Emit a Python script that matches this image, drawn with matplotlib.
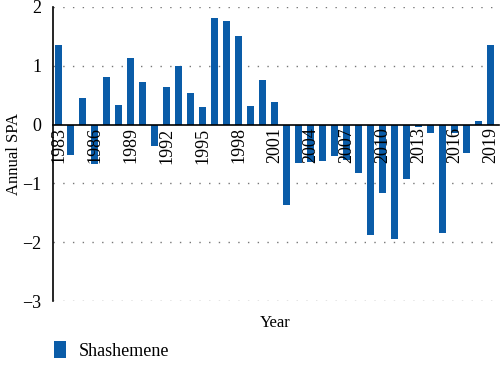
import matplotlib.pyplot as plt
from matplotlib.patches import Patch

years = list(range(1983, 2020))
spa = [1.36, -0.51, 0.46, -0.67, 0.81, 0.34, 1.14, 0.72, -0.37, 0.64,
       0.99, 0.53, 0.30, 1.81, 1.76, 1.50, 0.32, 0.76, 0.38, -1.37,
       -0.65, -0.63, -0.61, -0.54, -0.60, -0.83, -1.87, -1.17, -1.95, -0.93,
       -0.04, -0.15, -1.85, -0.15, -0.49, 0.06, 1.36]
tick_years = list(range(1983, 2020, 3))
yticks = [2, 1, 0, -1, -2, -3]

plt.rcParams['font.family'] = ['Liberation Serif', 'DejaVu Serif']
plt.rcParams['font.size'] = 12

fig = plt.figure(figsize=(5, 3.65), dpi=100)
ax = fig.add_axes([0.105, 0.175, 0.893, 0.806])

color = '#0a5ca8'
ax.bar(years, spa, width=0.52, color=color, zorder=2)

# x axis sits on the zero line (this resets ticks, so do it first)
ax.spines['top'].set_visible(False)
ax.spines['right'].set_visible(False)
ax.spines['bottom'].set_position(('data', 0))
ax.spines['left'].set_linewidth(1.2)
ax.spines['bottom'].set_linewidth(1.2)
ax.xaxis.set_zorder(3)
ax.spines['bottom'].set_zorder(3)

ax.set_xlim(1982.5, 2019.7)
ax.set_ylim(-3, 2)
ax.set_yticks(yticks)
ax.set_yticklabels([str(v).replace('-', '\u2212') for v in yticks])
ax.set_xticks(tick_years)
ax.set_xticklabels([str(y) for y in tick_years])
ax.tick_params(axis='x', length=0, pad=2, labelrotation=90, labelsize=13)
ax.tick_params(axis='y', length=0, pad=8, labelsize=13)

for y in yticks:
    if y != 0:
        ax.axhline(y, color='#777777', linestyle=(0, (1, 6)), linewidth=1.0, zorder=1)

fig.text(0.028, 0.578, 'Annual SPA', rotation=90, ha='center', va='center', fontsize=12)
fig.text(0.55, 0.115, 'Year', ha='center', va='center', fontsize=12)

handle = Patch(facecolor=color, edgecolor='none')
fig.legend([handle], ['Shashemene'], loc='lower left',
           bbox_to_anchor=(0.075, -0.03), frameon=False,
           handlelength=0.7, handleheight=1.1, handletextpad=0.7, fontsize=13)

fig.savefig('out.png', dpi=100)
